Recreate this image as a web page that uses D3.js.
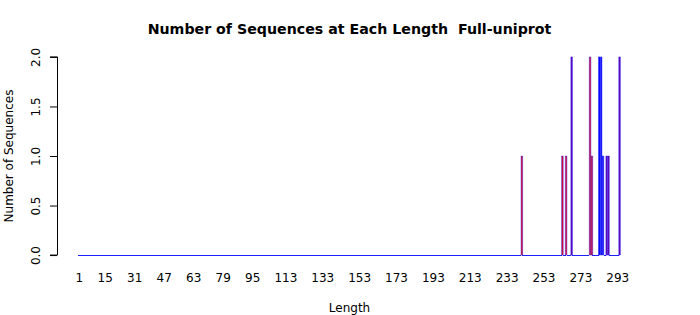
<!DOCTYPE html>
<html>
<head>
<meta charset="utf-8">
<script src="https://cdn.jsdelivr.net/npm/d3@7"></script>
<style>
  body { margin: 0; background: #fff; }
  text { font-family: 'DejaVu Sans', sans-serif; }
</style>
</head>
<body>
<svg id="chart" width="700" height="315"></svg>
<script>
// lengths go from 1 to maxLength, every other length has 0 sequences
const maxLength = 294;
const seqLengths = [241, 263, 265, 268, 278, 279, 283, 284, 285, 287, 288, 294];
const seqCounts  = [1,   1,   1,   2,   2,   1,   2,   2,   1,   1,   1,   2];
const seqColors  = ['red', 'red', 'red', '#7000a8', 'red', 'red', 'blue', 'blue', 'blue', '#7000a8', '#7000a8', '#7000a8'];
const xTickLabels = [1, 15, 31, 47, 63, 79, 95, 113, 133, 153, 173, 193, 213, 233, 253, 273, 293];
const yTicks = [0, 0.5, 1, 1.5, 2];

const style = {
  border: '#2020ff',
  borderWidth: 0.5,
  baselineWidth: 1,
  textColor: '#000',
  tickSize: '12px',
  titleSize: '14.2px'
};

const svg = d3.select('#chart');
const lengths = d3.range(1, maxLength + 1);
const countOf = new Map(seqLengths.map((l, i) => [l, seqCounts[i]]));
const colorOf = new Map(seqLengths.map((l, i) => [l, seqColors[i]]));

// R barplot style: bar width 1, space 0.2, usr extended 4% each side
const plot = { left: 57, right: 642, top: 49, bottom: 263 };
const xlo = 0.2, xhi = maxLength * 1.2;
const ext = (xhi - xlo) * 0.04;
const usr = d3.scaleLinear().domain([xlo - ext, xhi + ext]).range([plot.left, plot.right]);

const xScale = d3.scaleBand()
  .domain(lengths)
  .range([usr(xlo), usr(xhi)])
  .paddingInner(0.2 / 1.2)
  .paddingOuter(0);

const yScale = d3.scaleLinear()
  .domain([-0.08, 2.08])
  .range([plot.bottom, plot.top]);

const bars = svg.append('g').attr('class', 'bars');
// zero height bars only leave their border: a short line on the baseline
bars.selectAll('path.zero')
  .data(lengths.filter(d => !countOf.has(d)))
  .enter()
  .append('path')
    .attr('class', 'zero')
    .attr('d', d => `M${xScale(d)},${yScale(0)}H${xScale(d) + xScale.bandwidth()}`)
    .attr('fill', 'none')
    .attr('stroke', style.border)
    .attr('stroke-linecap', 'square')
    .attr('shape-rendering', 'crispEdges')
    .attr('stroke-width', style.baselineWidth);

bars.selectAll('path.bar')
  .data(seqLengths)
  .enter()
  .append('path')
    .attr('class', 'bar')
    .attr('d', d => {
      const x0 = xScale(d), w = xScale.bandwidth();
      const y0 = yScale(0), y1 = yScale(countOf.get(d));
      return `M${x0},${y0}H${x0 + w}V${y1}H${x0}Z`;
    })
    .attr('fill', d => colorOf.get(d))
    .attr('stroke', style.border)
    .attr('stroke-width', style.borderWidth);

// y axis
const yAxis = d3.axisLeft(yScale).tickValues(yTicks).tickFormat(d3.format('.1f')).tickSize(7).tickPadding(3);
const yAxisSel = svg.append('g')
  .attr('transform', `translate(${plot.left},0)`)
  .call(yAxis);
yAxisSel.select('.domain')
  .attr('d', `M-7,${yScale(0)}H0.5V${yScale(2)}H-7`)
  .attr('stroke', '#000');
yAxisSel.selectAll('.tick line').attr('stroke', '#000');
yAxisSel.selectAll('.tick text')
  .attr('fill', style.textColor)
  .style('font-size', style.tickSize)
  .attr('transform', 'rotate(-90)')
  .attr('x', 0)
  .attr('y', -21)
  .attr('dy', '0.35em')
  .attr('text-anchor', 'middle');
yAxisSel.attr('font-family', null);

// x axis labels only
const xAxis = d3.axisBottom(xScale).tickValues(xTickLabels).tickSize(0).tickPadding(0);
const xAxisSel = svg.append('g')
  .attr('transform', `translate(0, 272)`)
  .call(xAxis);
xAxisSel.select('.domain').remove();
xAxisSel.selectAll('.tick text')
  .attr('fill', style.textColor)
  .style('font-size', style.tickSize)
  .attr('y', 0)
  .attr('dy', '0.8em');
xAxisSel.attr('font-family', null);

// titles
svg.append('text')
  .attr('x', (plot.left + plot.right) / 2)
  .attr('y', 34)
  .attr('text-anchor', 'middle')
  .attr('font-weight', 'bold')
  .style('font-size', style.titleSize)
  .style('white-space', 'pre')
  .text('Number of Sequences at Each Length  Full-uniprot');

svg.append('text')
  .attr('x', (plot.left + plot.right) / 2)
  .attr('y', 312)
  .attr('text-anchor', 'middle')
  .style('font-size', style.tickSize)
  .text('Length');

svg.append('text')
  .attr('transform', `translate(13, ${yScale(1)}) rotate(-90)`)
  .attr('text-anchor', 'middle')
  .style('font-size', style.tickSize)
  .text('Number of Sequences');
</script>
</body>
</html>
